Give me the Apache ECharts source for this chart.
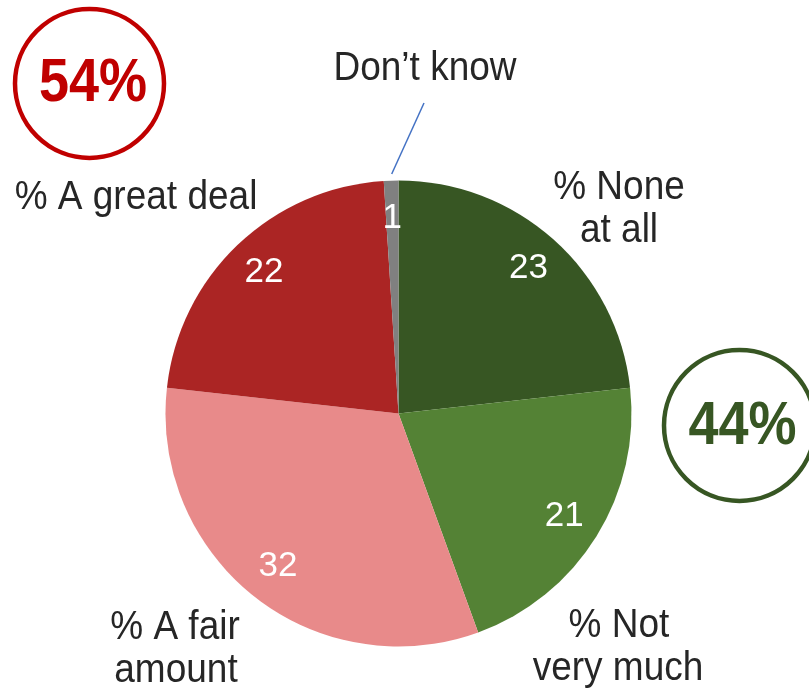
<!DOCTYPE html>
<html>
<head>
<meta charset="utf-8">
<script src="https://cdn.jsdelivr.net/npm/echarts@6/dist/echarts.min.js"></script>
<style>html,body{margin:0;padding:0;background:#fff}#c{width:809px;height:691px}</style>
</head>
<body>
<div id="c"></div>
<script>
const categories = ['% None at all', '% Not very much', '% A fair amount', '% A great deal', 'Don\u2019t know'];
const values = [23, 21, 32, 22, 1];
const sliceColors = ['#375623', '#548235', '#E88A8A', '#AB2524', '#808080'];
const netLabels = ['54%', '44%'];

const FONT = '"Liberation Sans", Arial, sans-serif';
const chart = echarts.init(document.getElementById('c'), null, {renderer: 'canvas'});
const center = [398.5, 413.5];

const txt = (x, y, s, size, color, weight, sy) => ({
  type: 'text', x: x, y: y, scaleY: sy || 1.08,
  style: {text: s, x: 0, y: 0, align: 'center', verticalAlign: 'middle',
    font: (weight || 'normal') + ' ' + size + 'px ' + FONT, fill: color}
});

chart.setOption({
  animation: false,
  backgroundColor: '#ffffff',
  series: [
    {
      type: 'pie', center: center, radius: [0, 233], startAngle: 90, clockwise: true,
      silent: true, label: {show: false}, labelLine: {show: false},
      data: categories.map((c, i) => ({name: c, value: values[i], itemStyle: {color: sliceColors[i]}}))
    },
    {
      type: 'pie', center: center, radius: [152, 232], startAngle: 90, clockwise: true,
      silent: true, itemStyle: {color: 'rgba(0,0,0,0)'},
      label: {show: true, position: 'inside', color: '#ffffff', fontSize: 35, fontFamily: FONT,
        formatter: p => String(p.value)},
      labelLine: {show: false},
      data: categories.map((c, i) => ({name: c, value: values[i]}))
    }
  ],
  graphic: [
    {type: 'circle', shape: {cx: 89.5, cy: 83.5, r: 74.5}, style: {fill: 'none', stroke: '#C00000', lineWidth: 4.5}},
    txt(93, 84, netLabels[0], 54, '#C00000', 'bold', 1.12),
    {type: 'circle', shape: {cx: 739.5, cy: 425.5, r: 75.5}, style: {fill: 'none', stroke: '#375623', lineWidth: 4.5}},
    txt(742.5, 427, netLabels[1], 54, '#375623', 'bold', 1.12),
    {type: 'line', shape: {x1: 391.7, y1: 174, x2: 424, y2: 103}, style: {stroke: '#4472C4', lineWidth: 1.5}},
    txt(425, 69, 'Don\u2019t know', 37, '#262626'),
    txt(136, 198, '% A great deal', 37, '#262626'),
    txt(619, 188, '% None', 37, '#262626'),
    txt(619, 231, 'at all', 37, '#262626'),
    txt(619, 626, '% Not', 37, '#262626'),
    txt(618, 669, 'very much', 37, '#262626'),
    txt(175, 628, '% A fair', 37, '#262626'),
    txt(176, 671, 'amount', 37, '#262626')
  ]
});
</script>
</body>
</html>
